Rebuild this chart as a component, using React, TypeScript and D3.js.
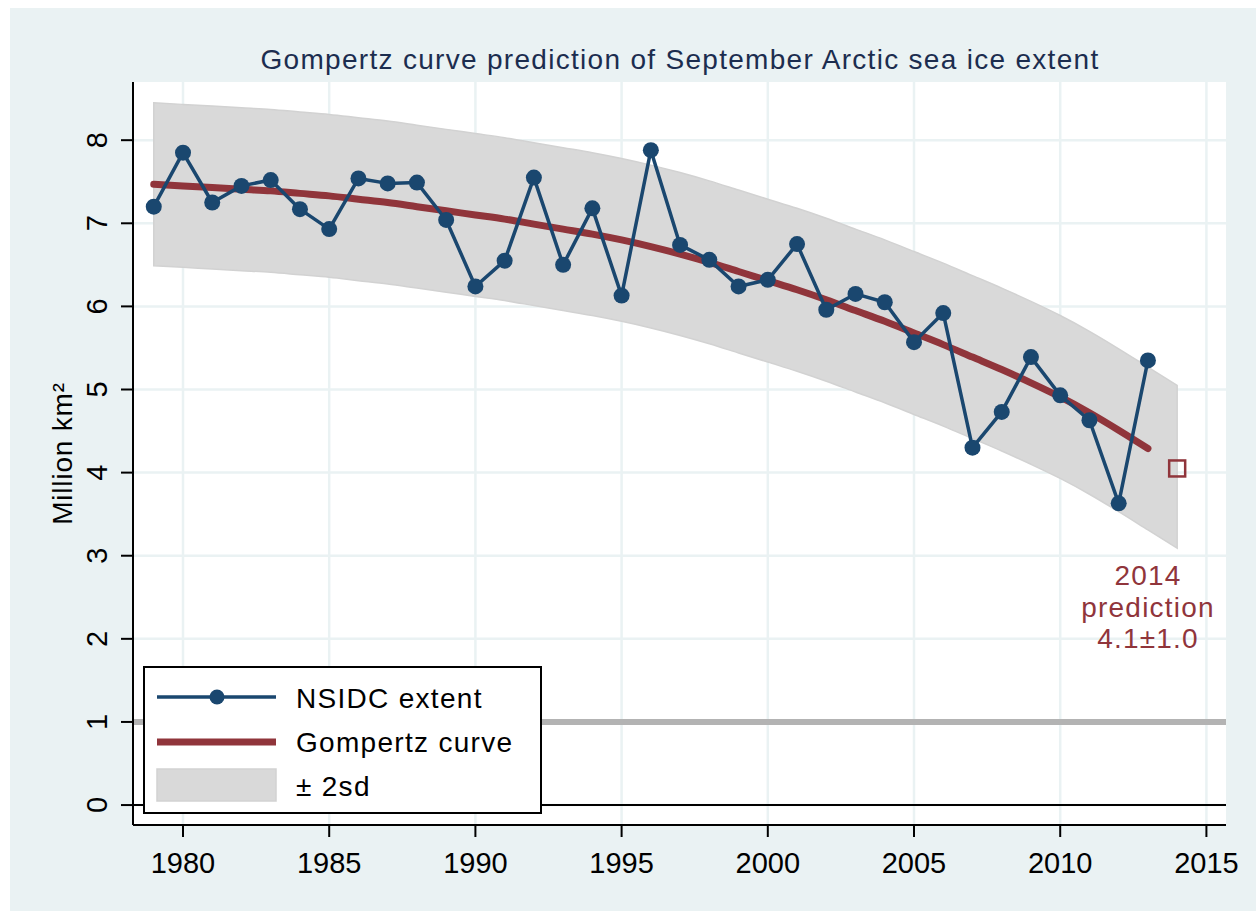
import React from 'react'
import { scaleLinear, line, area, curveMonotoneX, range } from 'd3'

// years of observation and the September extent (million km²)
const years = range(1979, 2014)
const extent = [
  7.2, 7.85, 7.25, 7.45, 7.52, 7.17, 6.93, 7.54, 7.48, 7.49, 7.04, 6.24, 6.55,
  7.55, 6.5, 7.18, 6.13, 7.88, 6.74, 6.56, 6.24, 6.32, 6.75, 5.96, 6.15, 6.05,
  5.57, 5.92, 4.3, 4.73, 5.39, 4.93, 4.63, 3.63, 5.35,
]
// fitted Gompertz curve, 1979-2013
const gompertz = [
  7.47, 7.45, 7.43, 7.41, 7.39, 7.36, 7.33, 7.29, 7.25, 7.2, 7.15, 7.1, 7.05,
  6.99, 6.93, 6.87, 6.8, 6.72, 6.63, 6.53, 6.42, 6.31, 6.2, 6.08, 5.95, 5.82,
  5.68, 5.54, 5.39, 5.24, 5.08, 4.91, 4.72, 4.51, 4.29,
]
// ±2sd band, 1979-2014
const bandYears = range(1979, 2015)
const bandUpper = [
  8.45, 8.43, 8.41, 8.39, 8.37, 8.34, 8.31, 8.27, 8.23, 8.18, 8.13, 8.08, 8.03,
  7.97, 7.91, 7.85, 7.78, 7.7, 7.61, 7.51, 7.4, 7.29, 7.18, 7.06, 6.93, 6.8,
  6.66, 6.52, 6.37, 6.22, 6.06, 5.89, 5.7, 5.49, 5.27, 5.05,
]
const bandLower = [
  6.49, 6.47, 6.45, 6.43, 6.41, 6.38, 6.35, 6.31, 6.27, 6.22, 6.17, 6.12, 6.07,
  6.01, 5.95, 5.89, 5.82, 5.74, 5.65, 5.55, 5.44, 5.33, 5.22, 5.1, 4.97, 4.84,
  4.7, 4.56, 4.41, 4.26, 4.1, 3.93, 3.74, 3.53, 3.31, 3.09,
]
const predictionYear = 2014
const predictionValue = 4.05
const predictionLabel = ['2014', 'prediction', '4.1±1.0']

const xTicks = [1980, 1985, 1990, 1995, 2000, 2005, 2010, 2015]
const yTicks = [0, 1, 2, 3, 4, 5, 6, 7, 8]
const legendLabels = ['NSIDC extent', 'Gompertz curve', '± 2sd']

const W = 1256
const H = 911
const plot = { left: 133, right: 1226, top: 82, bottom: 825 }
const navy = '#1a476f'
const maroon = '#90353b'
const bg = '#eaf2f3'
const font = '"Liberation Sans", Arial, sans-serif'

const App = () => {
  const x = scaleLinear().domain([1978.29, 2015.67]).range([plot.left, plot.right])
  const y = scaleLinear().domain([-0.24, 8.7]).range([plot.bottom, plot.top])

  const dataLine = line<number>()
    .x((d, i) => x(years[i]))
    .y((d) => y(d))
  const curveLine = line<number>()
    .x((d, i) => x(years[i]))
    .y((d) => y(d))
    .curve(curveMonotoneX)
  const band = area<number>()
    .x((d, i) => x(bandYears[i]))
    .y0((d, i) => y(bandLower[i]))
    .y1((d) => y(d))
    .curve(curveMonotoneX)

  const lx = 144,
    ly = 667
  const sq = 16

  return (
    <svg
      width={W}
      height={H}
      style={{ position: 'absolute', left: 0, top: 0, display: 'block' }}
      fontFamily={font}
    >
      <rect x={0} y={0} width={W} height={H} fill='#fff' />
      <rect x={10} y={8} width={W - 10} height={H - 8} fill={bg} />
      <rect
        x={plot.left}
        y={plot.top}
        width={plot.right - plot.left}
        height={plot.bottom - plot.top}
        fill='#fff'
      />

      {/* grid */}
      {xTicks.map((t) => (
        <line key={'gx' + t} x1={x(t)} x2={x(t)} y1={plot.top} y2={plot.bottom} stroke={bg} strokeWidth={2.5} />
      ))}
      {yTicks.map((t) => (
        <line key={'gy' + t} x1={plot.left} x2={plot.right} y1={y(t)} y2={y(t)} stroke={bg} strokeWidth={2.5} />
      ))}

      <path d={band(bandUpper) || ''} fill='#d9d9d9' stroke='#d2d2d2' strokeWidth={1.5} />

      <line x1={plot.left} x2={plot.right} y1={y(1)} y2={y(1)} stroke='#b3b3b3' strokeWidth={6} />
      <line x1={plot.left} x2={plot.right} y1={y(0)} y2={y(0)} stroke='#000' strokeWidth={2} />

      <path d={curveLine(gompertz) || ''} fill='none' stroke={maroon} strokeWidth={7} strokeLinecap='round' />
      <path d={dataLine(extent) || ''} fill='none' stroke={navy} strokeWidth={3.5} strokeLinejoin='round' />
      {extent.map((v, i) => (
        <circle key={'p' + i} cx={x(years[i])} cy={y(v)} r={8} fill={navy} />
      ))}

      <rect
        x={x(predictionYear) - sq / 2}
        y={y(predictionValue) - sq / 2}
        width={sq}
        height={sq}
        fill='none'
        stroke={maroon}
        strokeWidth={2.5}
      />
      {predictionLabel.map((s, i) => (
        <text
          key={s}
          x={1148}
          y={585 + i * 31.5}
          textAnchor='middle'
          fontSize={28}
          letterSpacing={1.2}
          fill={maroon}
        >
          {s}
        </text>
      ))}

      {/* axes */}
      <line x1={plot.left} x2={plot.left} y1={plot.top} y2={plot.bottom} stroke='#000' strokeWidth={2} />
      <line x1={plot.left} x2={plot.right} y1={plot.bottom} y2={plot.bottom} stroke='#000' strokeWidth={2} />
      {yTicks.map((t) => (
        <g key={'yt' + t}>
          <line x1={plot.left - 12} x2={plot.left} y1={y(t)} y2={y(t)} stroke='#000' strokeWidth={2} />
          <text transform={`translate(107, ${y(t)}) rotate(-90)`} textAnchor='middle' fontSize={29} fill='#000'>
            {t}
          </text>
        </g>
      ))}
      {xTicks.map((t) => (
        <g key={'xt' + t}>
          <line x1={x(t)} x2={x(t)} y1={plot.bottom} y2={plot.bottom + 12} stroke='#000' strokeWidth={2} />
          <text x={x(t)} y={873} textAnchor='middle' fontSize={29} fill='#000'>
            {t}
          </text>
        </g>
      ))}
      <text
        transform={`translate(72, ${(plot.top + plot.bottom) / 2}) rotate(-90)`}
        textAnchor='middle'
        fontSize={28}
        letterSpacing={0.8}
        fill='#000'
      >
        Million km²
      </text>

      <text x={680} y={69} textAnchor='middle' fontSize={28} letterSpacing={1.3} fill='#1c2d4f'>
        Gompertz curve prediction of September Arctic sea ice extent
      </text>

      {/* legend */}
      <rect x={lx} y={ly} width={397} height={146} fill='#fff' stroke='#000' strokeWidth={2} />
      <line x1={157} x2={276} y1={697} y2={697} stroke={navy} strokeWidth={3.5} />
      <circle cx={217} cy={697} r={7.5} fill={navy} />
      <line x1={157} x2={276} y1={742} y2={742} stroke={maroon} strokeWidth={7} />
      <rect x={157} y={769} width={119} height={32} fill='#d9d9d9' stroke='#d2d2d2' strokeWidth={1.5} />
      {legendLabels.map((s, i) => (
        <text key={s} x={296} y={708 + i * 44} fontSize={28} letterSpacing={1.3} fill='#000'>
          {s}
        </text>
      ))}
    </svg>
  )
}

export default App
